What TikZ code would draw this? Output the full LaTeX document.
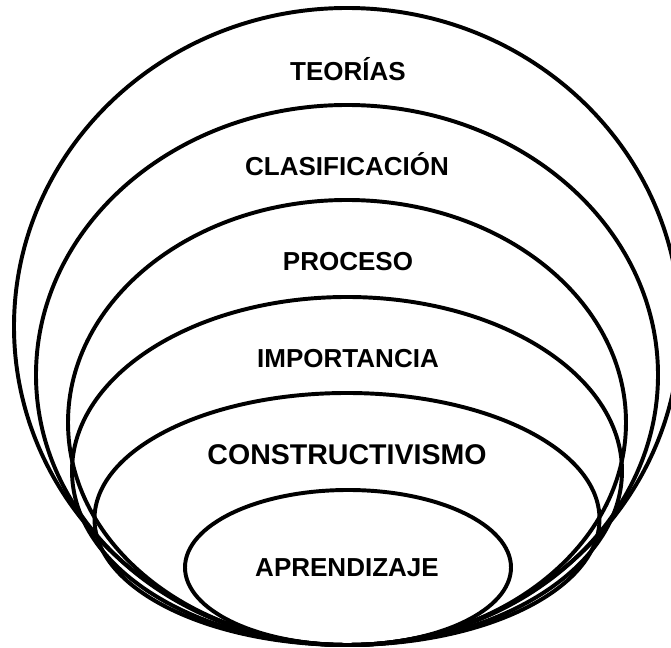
\documentclass[tikz,border=0pt]{standalone}
\usepackage{fontspec}
\setmainfont{Liberation Sans}
\usepackage{tikz}

\tikzset{
  ring/.style={line width=2.8pt},
  tag/.style={anchor=base, inner sep=0pt, font=\bfseries\fontsize{18.5}{22}\selectfont},
  bigtag/.style={tag, font=\bfseries\fontsize{20.3}{24}\selectfont}
}

\begin{document}
\begin{tikzpicture}
\useasboundingbox (0,0) rectangle (16.775,16.2);

% nested rings, all touching at the bottom
\draw[ring] (8.675,8.0375) ellipse (8.325 and 7.9625);
\draw[ring] (8.675,6.825) ellipse (7.775 and 6.75);
\draw[ring] (8.675,5.6375) ellipse (6.975 and 5.5625);
\draw[ring] (8.675,4.425) ellipse (6.875 and 4.35);
\draw[ring] (8.675,3.225) ellipse (6.3125 and 3.15);
\draw[ring] (8.7,2.0125) ellipse (4.075 and 1.9375);

% labels
\node[tag] (teorias) at (8.7,14.175) {TEORÍAS};
\node[tag] (clasif) at (8.675,11.81) {CLASIFICACIÓN};
\node[tag] (proceso) at (8.7,9.43) {PROCESO};
\node[tag] (import) at (8.7,7.0) {IMPORTANCIA};
\node[bigtag] (construct) at (8.675,4.575) {CONSTRUCTIVISMO};
\node[tag] (aprend) at (8.675,1.78) {APRENDIZAJE};
\end{tikzpicture}
\end{document}
